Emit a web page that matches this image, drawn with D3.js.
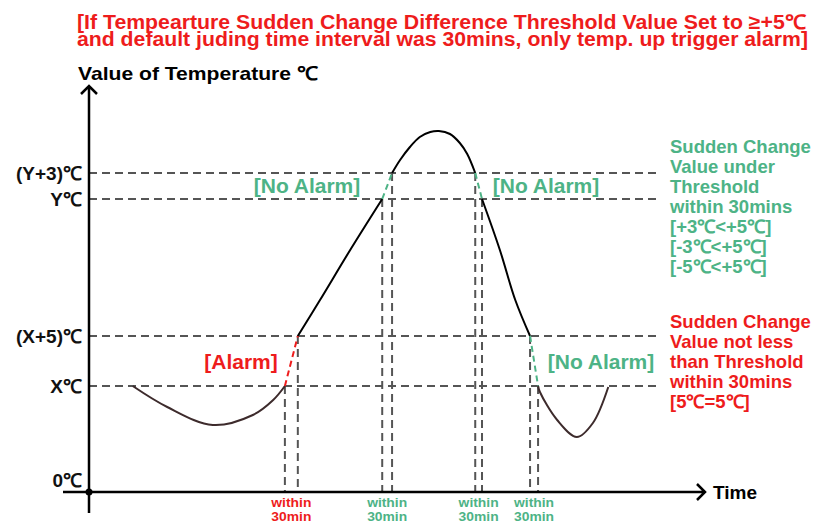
<!DOCTYPE html>
<html><head><meta charset="utf-8">
<script src="https://cdn.jsdelivr.net/npm/d3@7"></script>
<style>body{margin:0;background:#fff}svg{display:block}</style>
</head><body>
<svg id="c" width="815" height="524"></svg>
<script>
// ---- data ----
const titleLines = ["[If Tempearture Sudden Change Difference Threshold Value Set to ≥+5℃",
                    "and default juding time interval was 30mins, only temp. up trigger alarm]"];
const yTitle = "Value of Temperature ℃";
const xTitle = "Time";
const levelLabels = ["0℃", "X℃", "(X+5)℃", "Y℃", "(Y+3)℃"];
const levelValues = [0, 10.6, 15.6, 29.3, 31.9];
const guideLevels = [10.6, 15.6, 29.3, 31.9];
// solid curve segments (time units, temperature units)
const seg1T = [0.71, 1.27, 2.01, 2.66, 2.99, 3.18];
const seg1V = [10.6, 8.5, 6.7, 7.7, 9.2, 10.6];
const seg2T = [3.39, 3.75, 4.24, 4.76];
const seg2V = [15.6, 19.2, 24.2, 29.3];
const seg3T = [4.92, 5.05, 5.21, 5.37, 5.54, 5.68, 5.86, 6.02, 6.14, 6.27];
const seg3V = [31.9, 33.2, 34.5, 35.5, 36.0, 36.1, 35.8, 34.9, 33.8, 31.9];
const seg4T = [6.38, 6.67, 6.92, 7.16];
const seg4V = [29.3, 24.2, 19.2, 15.6];
const seg5T = [7.29, 7.32, 7.60, 7.92, 8.18, 8.43];
const seg5V = [10.6, 10.0, 7.2, 5.5, 6.9, 10.5];
// 30-minute windows: start/end time and value
const winStartT = [3.18, 4.76, 6.27, 7.16];
const winEndT   = [3.39, 4.92, 6.38, 7.29];
const winStartV = [10.6, 29.3, 31.9, 15.6];
const winEndV   = [15.6, 31.9, 29.3, 10.6];
const winAlarm  = [true, false, false, false];
const winLabel1 = ["within", "within", "within", "within"];
const winLabel2 = ["30min", "30min", "30min", "30min"];
const tagTexts = ["[Alarm]", "[No Alarm]", "[No Alarm]", "[No Alarm]"];
const noteGreen = ["Sudden Change", "Value under", "Threshold", "within 30mins", "[+3℃<+5℃]", "[-3℃<+5℃]", "[-5℃<+5℃]"];
const noteRed = ["Sudden Change", "Value not less", "than Threshold", "within 30mins", "[5℃=5℃]"];

// ---- styles ----
const RED = "#ee1c1c", GREEN = "#4db386", GRAY = "#555555";
const FONT = "'Liberation Sans', Arial, sans-serif";

const svg = d3.select("#c");
const x = d3.scaleLinear().domain([0, 10]).range([89, 705]);
const y = d3.scaleLinear().domain([0, 40]).range([492, 92]);
const xEndGuide = 9.27;

// title
svg.selectAll("text.title").data(titleLines).join("text")
  .attr("class", "title")
  .attr("x", 77).attr("y", (d, i) => 29 + i * 17)
  .attr("font-family", FONT).attr("font-weight", "bold").attr("font-size", 20)
  .attr("fill", RED).attr("textLength", (d, i) => i ? 731 : 729).attr("lengthAdjust", "spacingAndGlyphs")
  .text(d => d);
svg.append("text").attr("x", 78).attr("y", 80)
  .attr("font-family", FONT).attr("font-weight", "bold").attr("font-size", 19)
  .attr("textLength", 240).attr("lengthAdjust", "spacingAndGlyphs").text(yTitle);

// horizontal guides
svg.append("g").selectAll("line").data(guideLevels).join("line")
  .attr("x1", x(0)).attr("x2", x(xEndGuide)).attr("y1", d => y(d)).attr("y2", d => y(d))
  .attr("stroke", GRAY).attr("stroke-width", 2).attr("stroke-dasharray", "8,5");

// vertical guides
const vT = winStartT.concat(winEndT), vV = winStartV.concat(winEndV);
svg.append("g").selectAll("line").data(vT).join("line")
  .attr("x1", d => x(d)).attr("x2", d => x(d)).attr("y1", (d, i) => y(vV[i])).attr("y2", y(0))
  .attr("stroke", GRAY).attr("stroke-width", 2).attr("stroke-dasharray", "8,5");

// axes
const yAxis = d3.axisLeft(y).tickValues(levelValues).tickSize(0).tickPadding(7)
  .tickFormat((d, i) => levelLabels[i]);
const gy = svg.append("g").attr("transform", `translate(${x(0)},0)`).call(yAxis);
gy.select(".domain").remove();
gy.selectAll("text").attr("font-family", FONT).attr("font-weight", "bold").attr("font-size", 19)
  .attr("fill", "#111").attr("dy", (d) => d === 0 ? "-0.3em" : "0.36em");

const axisStyle = g => g.attr("stroke", "#000").attr("stroke-width", 2.5).attr("fill", "none");
svg.append("path").call(axisStyle)
  .attr("d", `M${x(0)},513 V${y(40.6)} M${x(0) - 8},${y(39.8)} L${x(0)},${y(40.6)} L${x(0) + 8},${y(39.8)}`);
svg.append("path").call(axisStyle)
  .attr("d", `M63,${y(0)} H${x(10)} M${x(10) - 8},${y(0) - 8} L${x(10)},${y(0)} L${x(10) - 8},${y(0) + 8}`);
svg.append("circle").attr("cx", x(0)).attr("cy", y(0)).attr("r", 3.5).attr("fill", "#000");
svg.append("text").attr("x", x(10) + 8).attr("y", y(0) + 7)
  .attr("font-family", FONT).attr("font-weight", "bold").attr("font-size", 19).text(xTitle);

// curve
const line = d3.line().x(d => x(d[0])).y(d => y(d[1])).curve(d3.curveCatmullRom.alpha(0.5));
const segs = [[seg1T, seg1V, "#3d2b2c"], [seg2T, seg2V, "#000"], [seg3T, seg3V, "#000"],
              [seg4T, seg4V, "#000"], [seg5T, seg5V, "#3d2b2c"]];
segs.forEach(([T, V, c]) => {
  svg.append("path").datum(d3.zip(T, V)).attr("d", line)
    .attr("fill", "none").attr("stroke", c).attr("stroke-width", 2);
});
// windows (dashed transitions)
winStartT.forEach((t, i) => {
  svg.append("line").attr("x1", x(t)).attr("y1", y(winStartV[i])).attr("x2", x(winEndT[i])).attr("y2", y(winEndV[i]))
    .attr("stroke", winAlarm[i] ? RED : GREEN).attr("stroke-width", 2).attr("stroke-dasharray", "6,4");
  const cx = (x(t) + x(winEndT[i])) / 2;
  const tg = svg.append("text").attr("text-anchor", "middle").attr("font-family", FONT)
    .attr("font-weight", "bold").attr("font-size", 13).attr("fill", winAlarm[i] ? RED : GREEN);
  tg.append("tspan").attr("x", cx).attr("y", 507).attr("textLength", 40).attr("lengthAdjust", "spacingAndGlyphs").text(winLabel1[i]);
  tg.append("tspan").attr("x", cx).attr("y", 521).attr("textLength", 40).attr("lengthAdjust", "spacingAndGlyphs").text(winLabel2[i]);
});

// tags
const tagPos = [[241, 362], [307, 186], [546, 186], [601, 362]];
tagTexts.forEach((t, i) => {
  svg.append("text").attr("x", tagPos[i][0]).attr("y", tagPos[i][1]).attr("dy", "0.35em")
    .attr("text-anchor", "middle").attr("font-family", FONT).attr("font-weight", "bold")
    .attr("font-size", 21).attr("fill", winAlarm[i] ? RED : GREEN).text(t);
});

// notes
svg.append("g").selectAll("text").data(noteGreen).join("text")
  .attr("x", 670).attr("y", (d, i) => 147 + i * 20).attr("dy", "0.35em")
  .attr("font-family", FONT).attr("font-weight", "bold").attr("font-size", 18.5).attr("fill", GREEN).text(d => d);
svg.append("g").selectAll("text").data(noteRed).join("text")
  .attr("x", 670).attr("y", (d, i) => 322 + i * 20).attr("dy", "0.35em")
  .attr("font-family", FONT).attr("font-weight", "bold").attr("font-size", 18.5).attr("fill", RED).text(d => d);
</script>
</body></html>
